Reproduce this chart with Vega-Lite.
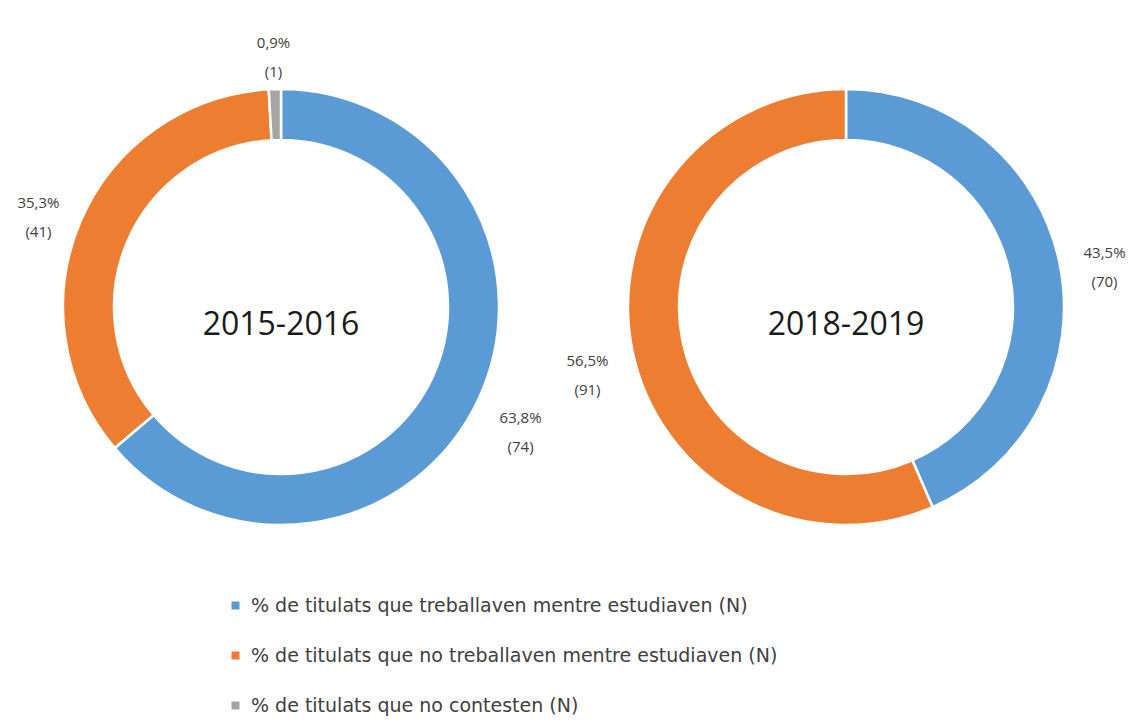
{
  "$schema": "https://vega.github.io/schema/vega-lite/v6.json",
  "padding": {"top": 27, "left": 0, "right": 0, "bottom": 0},
  "background": "white",
  "data": {
    "values": [
      {"year": "2015-2016", "cat": "% de titulats que treballaven mentre estudiaven (N)", "pct": 63.8, "n": 74, "label": ["63,8%", "(74)"]},
      {"year": "2015-2016", "cat": "% de titulats que no treballaven mentre estudiaven (N)", "pct": 35.3, "n": 41, "label": ["35,3%", "(41)"]},
      {"year": "2015-2016", "cat": "% de titulats que no contesten (N)", "pct": 0.9, "n": 1, "label": ["0,9%", "(1)"]},
      {"year": "2018-2019", "cat": "% de titulats que treballaven mentre estudiaven (N)", "pct": 43.5, "n": 70, "label": ["43,5%", "(70)"]},
      {"year": "2018-2019", "cat": "% de titulats que no treballaven mentre estudiaven (N)", "pct": 56.5, "n": 91, "label": ["56,5%", "(91)"]}
    ]
  },
  "facet": {"column": {"field": "year", "type": "nominal", "header": null}},
  "spacing": 3,
  "spec": {
    "width": 562,
    "height": 560,
    "encoding": {
      "theta": {"field": "pct", "type": "quantitative", "stack": true},
      "order": {"field": "cat", "sort": "descending"},
      "color": {
        "field": "cat",
        "type": "nominal",
        "scale": {
          "domain": [
            "% de titulats que treballaven mentre estudiaven (N)",
            "% de titulats que no treballaven mentre estudiaven (N)",
            "% de titulats que no contesten (N)"
          ],
          "range": ["#5B9BD5", "#ED7D31", "#A5A5A5"]
        },
        "legend": {
          "title": null,
          "orient": "none",
          "legendX": 226,
          "legendY": 569,
          "direction": "vertical",
          "symbolType": "square",
          "symbolSize": 64,
          "symbolStrokeWidth": 0,
          "labelFont": "DejaVu Sans",
          "labelFontSize": 19,
          "labelColor": "#404040",
          "labelLimit": 800,
          "rowPadding": 30,
          "labelOffset": 6
        }
      }
    },
    "layer": [
      {
        "mark": {"type": "arc", "outerRadius": 218, "innerRadius": 167, "stroke": "white", "strokeWidth": 2.5}
      },
      {
        "mark": {"type": "text", "radius": 264, "font": "Open Sans", "fontSize": 15, "color": "#404040", "lineHeight": 29},
        "encoding": {
          "text": {"field": "label"},
          "color": {"value": "#404040"}
        }
      },
      {
        "transform": [{"filter": "indexof(datum.cat, 'no ') < 0"}],
        "mark": {"type": "text", "font": "Open Sans", "fontSize": 32, "color": "#1a1a1a", "dy": 18},
        "encoding": {
          "theta": null,
          "order": null,
          "text": {"field": "year"},
          "color": {"value": "#1a1a1a"}
        }
      }
    ]
  },
  "config": {"view": {"stroke": null}}
}
